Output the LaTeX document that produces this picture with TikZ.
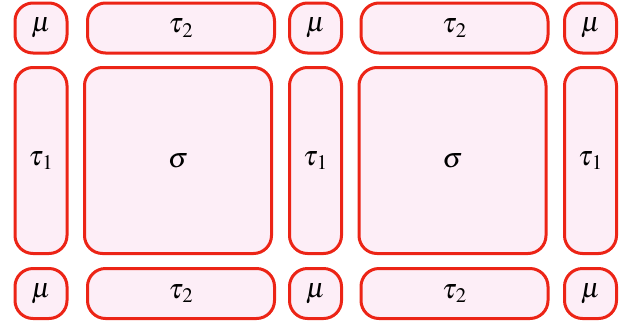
\documentclass[tikz,border=0pt]{standalone}
\usepackage{mathptmx}
\newcommand{\tauone}{\tau_{\kern1.5pt 1}}
\newcommand{\tautwo}{\tau_{\kern1.5pt 2}}
\begin{document}
\begin{tikzpicture}[x=1pt, y=-1pt,
    cell/.style={draw=myedge, fill=myfill, line width=3pt, rounded corners=18pt,
        inner sep=0pt, font=\fontsize{28}{32}\selectfont},
    corner/.style={cell, minimum width=52pt, minimum height=50pt},
    hside/.style={cell, minimum width=187pt, minimum height=50pt},
    vside/.style={cell, minimum width=52pt, minimum height=186pt},
    bulk/.style={cell, minimum width=187pt, minimum height=186pt}]
    \definecolor{myedge}{RGB}{236,36,22}
    \definecolor{myfill}{RGB}{253,238,247}

    \useasboundingbox (0,0) rectangle (637,330);

    % top row
    \node[corner] (mu11) at (41,28) {$\mu$};
    \node[hside]  (t211) at (181,28) {$\tautwo$};
    \node[corner] (mu12) at (315.5,28) {$\mu$};
    \node[hside]  (t212) at (454.5,28) {$\tautwo$};
    \node[corner] (mu13) at (590.5,28) {$\mu$};

    % middle row
    \node[vside] (t11) at (41,160.5) {$\tauone$};
    \node[bulk]  (sg1) at (178,160.5) {$\sigma$};
    \node[vside] (t12) at (315.5,160.5) {$\tauone$};
    \node[bulk]  (sg2) at (452.5,160.5) {$\sigma$};
    \node[vside] (t13) at (590.5,160.5) {$\tauone$};

    % bottom row
    \node[corner] (mu21) at (41,293.5) {$\mu$};
    \node[hside]  (t221) at (181,293.5) {$\tautwo$};
    \node[corner] (mu22) at (315.5,293.5) {$\mu$};
    \node[hside]  (t222) at (454.5,293.5) {$\tautwo$};
    \node[corner] (mu23) at (590.5,293.5) {$\mu$};
\end{tikzpicture}
\end{document}
